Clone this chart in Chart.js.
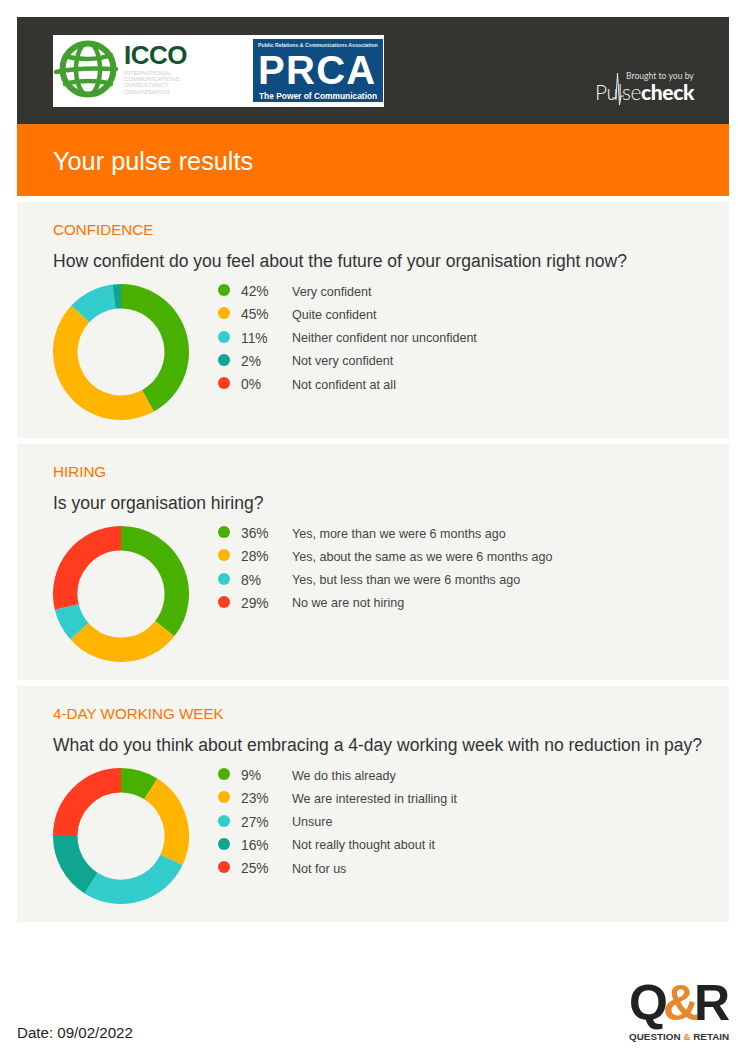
<!DOCTYPE html>
<html><head><meta charset="utf-8">
<script src="https://cdn.jsdelivr.net/npm/chart.js@4/dist/chart.umd.min.js"></script>
<style>
html,body{margin:0;padding:0;background:#fff}
body{width:746px;height:1056px;position:relative;overflow:hidden;font-family:"Liberation Sans",Arial,sans-serif}
.abs{position:absolute;white-space:nowrap}
.panel{position:absolute;left:17px;width:712px;height:236px;background:#f4f4f0}
.cat{position:absolute;left:36px;top:19px;font-size:15.2px;line-height:17px;color:#ff7300}
.q{position:absolute;left:36px;top:49px;font-size:17.55px;line-height:20px;color:#333;white-space:nowrap}
.cw{position:absolute;left:36px;top:82px;width:136px;height:136px}
.dot{position:absolute;left:201px;width:12px;height:12px;border-radius:50%}
.pct{position:absolute;left:224px;font-size:13.8px;line-height:16px;color:#444}
.lab{position:absolute;left:275px;font-size:12.55px;line-height:16px;color:#444;white-space:nowrap}
</style></head><body>
<div class="abs" style="left:17px;top:17px;width:712px;height:107px;background:#343531"></div>
<div class="abs" style="left:17px;top:124px;width:712px;height:72px;background:#ff7300"></div>
<div class="abs" style="left:53px;top:35px;width:331px;height:72px;background:#fff"></div>
<svg class="abs" style="left:53px;top:38px" width="68" height="62" viewBox="0 0 68 62">
<g fill="none" stroke="#43a02f" stroke-linecap="round"><circle cx="35" cy="31" r="25.5" stroke-width="6"/><ellipse cx="35" cy="31" rx="12" ry="26" stroke-width="4.5"/><path d="M3 34C20 30 45 30 63 31M12 18C25 22 45 22 58 17M12 46C25 42 46 42 58 46" stroke-width="4.5"/></g></svg>
<div class="abs" style="left:124px;top:42px;font:700 26px/27px 'Liberation Sans';color:#14532d;letter-spacing:-.5px">ICCO</div>
<div class="abs" style="left:124px;top:69.5px;font:6px/6.4px 'Liberation Sans';color:#cdcdcd">INTERNATIONAL<br>COMMUNICATIONS<br>CONSULTANCY<br>ORGANISATION</div>
<div class="abs" style="left:253px;top:39px;width:130px;height:63px;background:#0f4c81"></div>
<div class="abs" style="left:258px;top:42px;font:700 5.2px/6px 'Liberation Sans';color:#e6edf3">Public Relations &amp; Communications Association</div>
<div class="abs" style="left:258px;top:52px;font:700 40px/36px 'Liberation Sans';color:#fff;letter-spacing:1.3px">PRCA</div>
<div class="abs" style="left:259px;top:91px;font:700 8.4px/10px 'Liberation Sans';color:#fff">The Power of Communication</div>
<div class="abs" style="left:626px;top:71px;font:8.6px/10px 'Lato';color:#ddd">Brought to you by</div>
<div class="abs" style="left:595px;top:82px;font:300 21px/20px 'Lato';color:#eee;letter-spacing:-.4px">Pulse<b style="color:#fff;font-weight:900">check</b></div>
<svg class="abs" style="left:612px;top:72px" width="12" height="34" viewBox="0 0 12 34"><path d="M0 26H4L5.5 1L7.5 33L9 24H12" fill="none" stroke="#eee" stroke-width="1"/></svg>
<div class="abs" style="left:53px;top:145.5px;font-size:25.3px;line-height:30px;color:#fff">Your pulse results</div>
<div id="panels"></div>
<div class="abs" style="left:17px;top:1024px;font-size:15.1px;line-height:17px;color:#222">Date: 09/02/2022</div>
<div class="abs" style="left:629px;top:979px;font:700 50px/48px 'Liberation Sans';color:#222;letter-spacing:-5px">Q<span style="color:#e8872b">&amp;</span>R</div>
<div class="abs" style="left:629px;top:1031px;font:700 9.9px/11px 'Liberation Sans';color:#333">QUESTION <span style="color:#e8872b">&amp;</span> RETAIN</div>
<script>
const confidenceLabels=["Very confident","Quite confident","Neither confident nor unconfident","Not very confident","Not confident at all"];
const confidenceValues=[42,45,11,2,0];
const confidenceColors=["#48b000","#ffb400","#33cccc","#0fa68f","#ff3b20"];
const hiringLabels=["Yes, more than we were 6 months ago","Yes, about the same as we were 6 months ago","Yes, but less than we were 6 months ago","No we are not hiring"];
const hiringValues=[36,28,8,29];
const hiringColors=["#48b000","#ffb400","#33cccc","#ff3b20"];
const weekLabels=["We do this already","We are interested in trialling it","Unsure","Not really thought about it","Not for us"];
const weekValues=[9,23,27,16,25];
const weekColors=["#48b000","#ffb400","#33cccc","#0fa68f","#ff3b20"];
const sections=[
 {cat:"CONFIDENCE",q:"How confident do you feel about the future of your organisation right now?",labels:confidenceLabels,values:confidenceValues,colors:confidenceColors,top:202},
 {cat:"HIRING",q:"Is your organisation hiring?",labels:hiringLabels,values:hiringValues,colors:hiringColors,top:444},
 {cat:"4-DAY WORKING WEEK",q:"What do you think about embracing a 4-day working week with no reduction in pay?",labels:weekLabels,values:weekValues,colors:weekColors,top:686}
];
const root=document.getElementById('panels');
sections.forEach(s=>{
 const p=document.createElement('div');p.className='panel';p.style.top=s.top+'px';
 let h=`<div class="cat">${s.cat}</div><div class="q">${s.q}</div><div class="cw"><canvas width="136" height="136"></canvas></div>`;
 s.labels.forEach((l,i)=>{
  const y=82+i*23.3;
  h+=`<div class="dot" style="top:${y}px;background:${s.colors[i]}"></div>`+
     `<div class="pct" style="top:${y}px">${s.values[i]}%</div>`+
     `<div class="lab" style="top:${y-0.5}px">${l}</div>`;
 });
 p.innerHTML=h;root.appendChild(p);
 new Chart(p.querySelector('canvas'),{type:'doughnut',
  data:{labels:s.labels,datasets:[{data:s.values,backgroundColor:s.colors,borderWidth:0}]},
  options:{responsive:false,animation:false,cutout:'64%',layout:{padding:0},plugins:{legend:{display:false},tooltip:{enabled:false}}}});
});
</script>
</body></html>
